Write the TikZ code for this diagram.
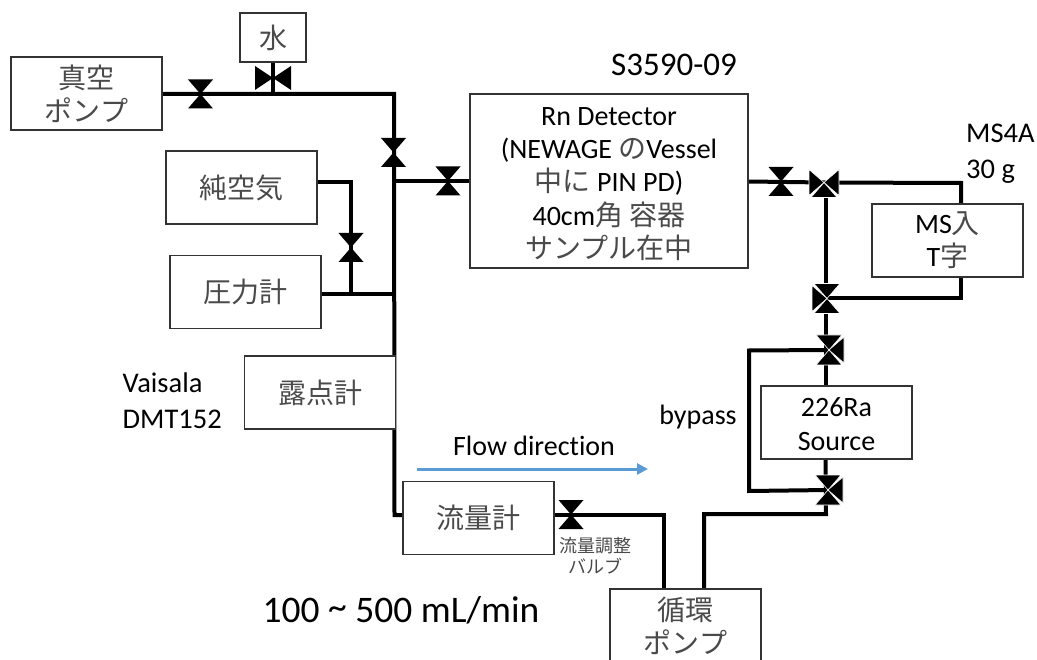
\documentclass[tikz,border=0pt]{standalone}
\usepackage{fontspec}
\setmainfont[Ligatures=NoCommon]{Carlito}
\newfontfamily\jpfont{Noto Sans CJK JP}
\usetikzlibrary{arrows.meta, backgrounds}
\definecolor{boxline}{HTML}{333333}
\definecolor{jptext}{HTML}{4A4A4A}
\definecolor{flowblue}{HTML}{5B9BD5}
\newcommand{\jp}[1]{{\jpfont\color{jptext}#1}}
\newcommand{\triL}{\fill[shift={(path picture bounding box.center)}, draw=white, line width=0.6pt] (-15,-13) -- (-15,13) -- (0,0) -- cycle;}
\newcommand{\triR}{\fill[shift={(path picture bounding box.center)}, draw=white, line width=0.6pt] (15,-13) -- (15,13) -- (0,0) -- cycle;}
\newcommand{\triT}{\fill[shift={(path picture bounding box.center)}, draw=white, line width=0.6pt] (-13,-15) -- (13,-15) -- (0,0) -- cycle;}
\newcommand{\triB}{\fill[shift={(path picture bounding box.center)}, draw=white, line width=0.6pt] (-13,15) -- (13,15) -- (0,0) -- cycle;}
\tikzset{
	mbox/.style={draw=boxline, fill=white, line width=1.5pt, align=center, inner sep=0pt,
		minimum width=151pt, minimum height=73pt, font=\fontsize{28}{33.3}\selectfont},
	mtext/.style={align=left, inner sep=0pt, font=\fontsize{28.5}{36}\selectfont},
	pipe/.style={line width=4pt, draw=black},
	vbase/.style={inner sep=0pt, outer sep=0pt},
	vupright/.style={vbase, minimum width=25pt, minimum height=29pt, path picture={
		\fill (path picture bounding box.north west) -- (path picture bounding box.north east)
		-- (path picture bounding box.south west) -- (path picture bounding box.south east) -- cycle;}},
	vside/.style={vbase, minimum width=36pt, minimum height=24pt, path picture={
		\fill (path picture bounding box.north west) -- (path picture bounding box.south west)
		-- (path picture bounding box.north east) -- (path picture bounding box.south east) -- cycle;}},
	teeLRB/.style={vbase, minimum size=31pt, path picture={\triL\triR\triB}},
	teeTLB/.style={vbase, minimum size=31pt, path picture={\triT\triL\triB}},
	teeTRB/.style={vbase, minimum size=31pt, path picture={\triT\triR\triB}},
	flowarr/.style={-{Triangle[length=11pt, width=11pt]}, line width=3pt, draw=flowblue}
}

\begin{document}
\begin{tikzpicture}[x=1pt, y=-1pt]
	\useasboundingbox (0,0) rectangle (1037,660);
	% boxes
	\node[mbox, minimum width=66pt, minimum height=49pt] (water) at (273,37.5) {\jp{水}};
	\node[mbox] (vacuum) at (86.5,93.5) {\jp{真空}\\\jp{ポンプ}};
	\node[mbox] (air) at (241.5,187.5) {\jp{純空気}};
	\node[mbox] (gauge) at (245.5,292) {\jp{圧力計}};
	\node[mbox] (dew) at (320,392.5) {\jp{露点計}};
	\node[mbox] (flowm) at (478.5,518) {\jp{流量計}};
	\node[mbox] (pump) at (685.5,625.5) {\jp{循環}\\\jp{ポンプ}};
	\node[mbox] (source) at (836.5,422.5) {\rule{0pt}{22pt}226Ra\\Source};
	\node[mbox] (ms) at (947.5,240.5) {MS\jp{入}\\T\jp{字}};
	\node[mbox, minimum width=278pt, minimum height=174pt] (detector) at (609,181) {\rule{0pt}{24pt}Rn Detector\\(NEWAGE \jp{の}Vessel\\\jp{中に} PIN PD)\\40cm\jp{角 容器}\\\jp{サンプル在中}};
	% valves
	\node[vupright] (vvac) at (200.5,94) {};
	\node[vside] (vwater) at (273,78) {};
	\node[vupright] (vmain) at (393.5,152.5) {};
	\node[vupright] (vdet) at (448,181) {};
	\node[vupright] (vair) at (351,247.5) {};
	\node[vupright] (vout) at (781,181.5) {};
	\node[vupright] (vflow) at (571,514.5) {};
	\node[teeLRB] (teeA) at (824,182.5) {};
	\node[teeTLB] (teeB) at (827,298.5) {};
	\node[teeTRB] (teeC) at (829,350) {};
	\node[teeTRB] (teeD) at (828,490) {};
	% corners of the pipes
	\coordinate (jtop) at (394,94);
	\coordinate (jdet) at (394,181);
	\coordinate (jgauge) at (394,294.5);
	\coordinate (jflow) at (394.5,515);
	\coordinate (jair) at (351,182);
	\coordinate (jbranch) at (351,294.5);
	\coordinate (jmsa) at (961,183);
	\coordinate (jmsb) at (961,298.5);
	\coordinate (jpumpa) at (664,514.5);
	\coordinate (jpumpb) at (704,514);
	\coordinate (jsrc) at (826,514);
	\coordinate (jbypa) at (749,350.5);
	\coordinate (jbypb) at (749,491);
	\begin{pgfonlayer}{background}
		\draw[pipe] (vacuum.east |- jtop) -- (jtop) -- (jflow) -- (flowm.west |- jflow);
		\draw[pipe] (water.south) -- (water.south |- jtop);
		\draw[pipe] (jdet) -- (detector.west |- jdet);
		\draw[pipe] (air.east |- jair) -- (jair) -- (jbranch);
		\draw[pipe] (gauge.east |- jgauge) -- (jgauge);
		\draw[pipe] (detector.east |- vout) -- (teeA.center);
		\draw[pipe] (teeA.center) -- (jmsa) -- (ms.north -| jmsa);
		\draw[pipe] (ms.south -| jmsb) -- (jmsb) -- (teeB.center);
		\draw[pipe] (825.5,182) -- (825.5,386);
		\draw[pipe] (flowm.east |- vflow) -- (jpumpa) -- (pump.north -| jpumpa);
		\draw[pipe] (pump.north -| jpumpb) -- (jpumpb) -- (jsrc) -- (825.5,459);
		\draw[pipe] (teeC.center) -- (jbypa) -- (jbypb) -- (teeD.center);
	\end{pgfonlayer}
	% labels
	\node[mtext, font=\fontsize{33}{36}\selectfont] (sensor) at (674,65) {S3590-09};
	\node[mtext, anchor=west] (vaisala) at (122.5,401) {Vaisala\\DMT152};
	\node[mtext, anchor=west] (sieve) at (966,154) {MS4A\\30 g};
	\node[mtext, font=\fontsize{28}{36}\selectfont] (bypass) at (698,417) {bypass};
	\node[mtext, font=\fontsize{28}{36}\selectfont] (flowtext) at (534,446) {Flow direction};
	\node[inner sep=0pt, font=\fontsize{37.5}{42}\selectfont] (rate) at (401,610) {100 \raisebox{3pt}{\textasciitilde} 500 mL/min};
	\node[inner sep=0pt, align=center, font=\fontsize{18}{21}\selectfont] (vlabel) at (595,555.5) {\jp{流量調整}\\\jp{バルブ}};
	\coordinate (flowa) at (417,469);
	\coordinate (flowb) at (648,469);
	\draw[flowarr] (flowa) -- (flowb);
\end{tikzpicture}
\end{document}
